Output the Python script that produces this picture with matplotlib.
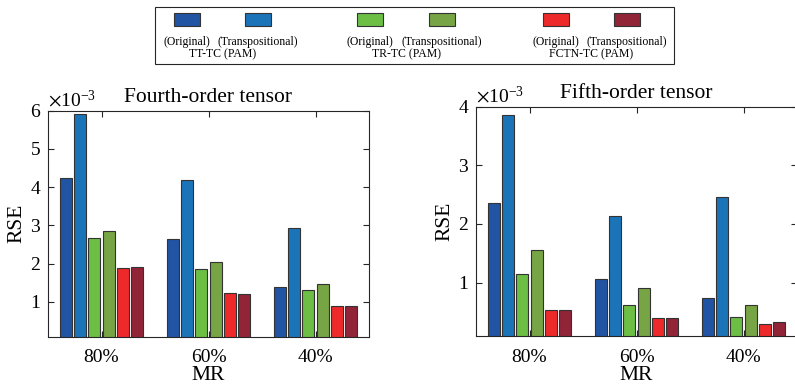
import matplotlib.pyplot as plt
import numpy as np
from matplotlib.patches import Rectangle
from matplotlib.ticker import ScalarFormatter

plt.rcParams['font.family'] = ['Liberation Serif', 'DejaVu Serif']
plt.rcParams['mathtext.fontset'] = 'stix'

# data (RSE)
mr_labels = ['80%', '60%', '40%']
method_names = ['TT-TC (PAM)', 'TR-TC (PAM)', 'FCTN-TC (PAM)']
variant_names = ['(Original)', '(Transpositional)']
colors = ['#2254A4', '#1B73B8', '#6CBE45', '#77A444', '#EE2929', '#922438']

fourth_tt_orig = [4.23e-3, 2.64e-3, 1.39e-3]
fourth_tt_trans = [5.91e-3, 4.18e-3, 2.94e-3]
fourth_tr_orig = [2.67e-3, 1.85e-3, 1.32e-3]
fourth_tr_trans = [2.84e-3, 2.04e-3, 1.46e-3]
fourth_fctn_orig = [1.89e-3, 1.22e-3, 0.90e-3]
fourth_fctn_trans = [1.91e-3, 1.20e-3, 0.90e-3]

fifth_tt_orig = [2.36e-3, 1.06e-3, 0.73e-3]
fifth_tt_trans = [3.85e-3, 2.13e-3, 2.46e-3]
fifth_tr_orig = [1.14e-3, 0.62e-3, 0.42e-3]
fifth_tr_trans = [1.55e-3, 0.90e-3, 0.62e-3]
fifth_fctn_orig = [0.54e-3, 0.39e-3, 0.30e-3]
fifth_fctn_trans = [0.53e-3, 0.40e-3, 0.32e-3]

fourth = [fourth_tt_orig, fourth_tt_trans, fourth_tr_orig,
          fourth_tr_trans, fourth_fctn_orig, fourth_fctn_trans]
fifth = [fifth_tt_orig, fifth_tt_trans, fifth_tr_orig,
         fifth_tr_trans, fifth_fctn_orig, fifth_fctn_trans]

fig = plt.figure(figsize=(7.95, 3.88), dpi=100)
W, H = 795.0, 388.0


def draw_panel(rect, series, title, ylim, yticks):
    ax = fig.add_axes(rect)
    x = np.arange(1, len(mr_labels) + 1)
    step, width = 0.134, 0.112
    for i, vals in enumerate(series):
        ax.bar(x + (i - 2.5) * step, vals, width, color=colors[i],
               edgecolor='#333333', linewidth=0.8, zorder=2)
    ax.set_xlim(0.5, 3.5)
    ax.set_ylim(*ylim)
    ax.set_xticks(x)
    ax.set_xticklabels(mr_labels)
    ax.set_yticks(yticks)
    fmt = ScalarFormatter(useMathText=True)
    fmt.set_powerlimits((-3, -3))
    ax.yaxis.set_major_formatter(fmt)
    ax.yaxis.get_offset_text().set_fontsize(14)
    ax.tick_params(direction='in', top=True, right=True, length=4,
                   width=0.8, color='#262626', labelsize=14)
    ax.tick_params(axis='x', pad=9)
    ax.tick_params(axis='y', pad=5)
    for s in ax.spines.values():
        s.set_color('#262626')
        s.set_linewidth(0.8)
    ax.set_title(title, fontsize=15.5, pad=6)
    ax.set_xlabel('MR', fontsize=15.5, labelpad=0)
    ax.set_ylabel('RSE', fontsize=15.5, labelpad=2)
    return ax


draw_panel([48 / W, 1 - 336.7 / H, 321 / W, 226.2 / H], fourth,
           'Fourth-order tensor', (0.09e-3, 6e-3), [1e-3, 2e-3, 3e-3, 4e-3, 5e-3, 6e-3])
draw_panel([476 / W, 1 - 336 / H, 321 / W, 229.3 / H], fifth,
           'Fifth-order tensor', (0.088e-3, 4e-3), [1e-3, 2e-3, 3e-3, 4e-3])

# legend box drawn by hand (MATLAB-style grouped legend)
fig.add_artist(Rectangle((155 / W, 1 - 64 / H), 519 / W, 57.3 / H,
                         transform=fig.transFigure, facecolor='white',
                         edgecolor='#262626', linewidth=0.8))
patch_x = [174, 245, 357, 429, 543, 614]
for i, px in enumerate(patch_x):
    fig.add_artist(Rectangle((px / W, 1 - 26 / H), 26 / W, 13.3 / H,
                             transform=fig.transFigure, facecolor=colors[i],
                             edgecolor='#333333', linewidth=0.8))
    fig.text((px + 13) / W, 1 - 42 / H, variant_names[i % 2],
             ha='center', va='center', fontsize=8.5)
for g, name in enumerate(method_names):
    cx = (patch_x[2 * g] + patch_x[2 * g + 1] + 26) / 2
    fig.text(cx / W, 1 - 54 / H, name, ha='center', va='center', fontsize=8.5)

fig.savefig('out.png', dpi=100)
